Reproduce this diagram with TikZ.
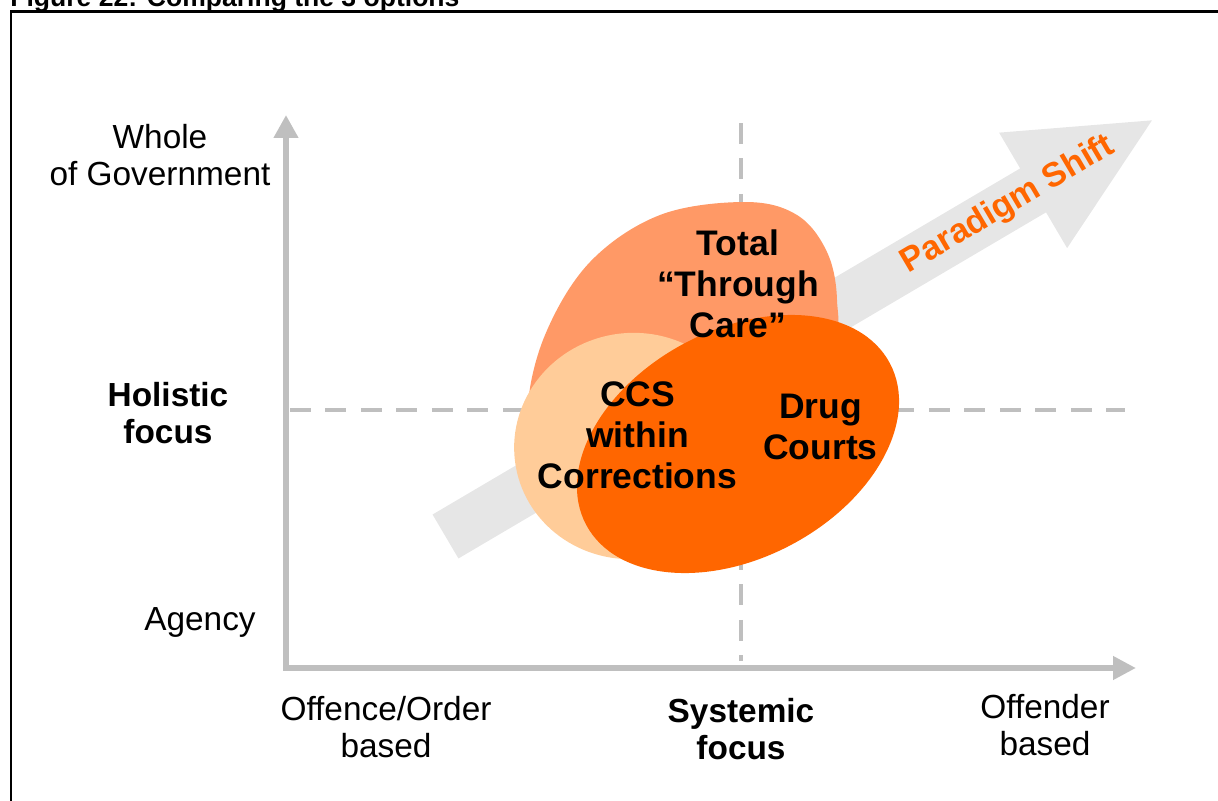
\documentclass[tikz,border=0pt]{standalone}
\usepackage{fontspec}
\setmainfont{Liberation Sans}
\usepackage{tikz}
\usetikzlibrary{arrows.meta, positioning}
\definecolor{axisgrey}{RGB}{191,191,191}
\definecolor{shiftgrey}{RGB}{230,230,230}
\definecolor{salmon}{RGB}{255,153,102}
\definecolor{peach}{RGB}{255,204,153}
\definecolor{deeporange}{RGB}{255,102,0}

\begin{document}
\begin{tikzpicture}[x=0.02cm, y=-0.02cm]
    \tikzstyle{axisline}=[axisgrey, line width=3.4pt, {Triangle[length=0.46cm, width=0.47cm]}-{Triangle[length=0.46cm, width=0.45cm]}]
    \tikzstyle{divider}=[axisgrey, line width=2.3pt, dash pattern=on 0.42cm off 0.29cm]
    \tikzstyle{axislabel}=[align=center, inner sep=0pt, font=\fontsize{19}{21}\selectfont]
    \tikzstyle{blobtext}=[align=center, inner sep=0pt, font=\bfseries\fontsize{20.2}{23.4}\selectfont]

    \useasboundingbox (0,0) rectangle (1218,801);

    % Frame and caption (the caption runs off the top edge)
    \draw[line width=1.2pt] (11,840) -- (11,11.5) -- (1260,11.5);
    \node[anchor=base west, inner sep=0pt, font=\bfseries\fontsize{15.1}{18}\selectfont] (caption) at (10,7) {Figure 22: Comparing the 3 options};

    % Quadrant dividers
    \draw[divider] (741,123) -- (741,661);
    \draw[divider] (290,410) -- (1125,410);

    % Axes
    \coordinate (origin) at (286,668);
    \coordinate (ytip) at (286,115);
    \coordinate (xtip) at (1136,668);
    \draw[axisline] (ytip) -- (origin) -- (xtip);

    % Paradigm shift arrow
    \begin{scope}[shift={(445.5,536.5)}, rotate=30.5]
        \fill[shiftgrey] (0,-25.5) -- (682,-25.5) -- (682,-67) -- (820,0) -- (682,67) -- (682,25.5) -- (0,25.5) -- cycle;
        \node[rotate=30.5, inner sep=0pt, text=deeporange, font=\bfseries\fontsize{19.4}{22}\selectfont] (shift) at (653,0) {Paradigm Shift};
    \end{scope}

    % The three options
    \fill[salmon] plot[smooth cycle, tension=0.6] coordinates {(528,410) (545,335) (590,262) (660,215) (745,202) (797,215) (827,252) (837,300) (830,350) (760,430) (640,470) (545,455)};
    \fill[peach, rotate around={10:(632,446)}] (632,446) ellipse [x radius=118, y radius=113];
    \fill[deeporange, rotate around={28:(738,444)}] (738,444) ellipse [x radius=172, y radius=114];

    \node[blobtext] (through) at (738,284) {Total\\“Through\\Care”};
    \node[blobtext] (ccs) at (637.5,435) {CCS\\within\\Corrections};
    \node[blobtext] (drug) at (820.5,427) {Drug\\Courts};

    % Axis labels
    \node[axislabel] (whole) at (160,155) {Whole\\of Government};
    \node[axislabel, font=\bfseries\fontsize{19}{21}\selectfont] (holistic) at (168,413) {Holistic\\focus};
    \node[axislabel] (agency) at (200,622) {Agency};
    \node[axislabel] (offence) at (386,727) {Offence/Order\\based};
    \node[axislabel, font=\bfseries\fontsize{19}{21}\selectfont] (systemic) at (741,729) {Systemic\\focus};
    \node[axislabel] (offender) at (1045,725) {Offender\\based};
\end{tikzpicture}
\end{document}
